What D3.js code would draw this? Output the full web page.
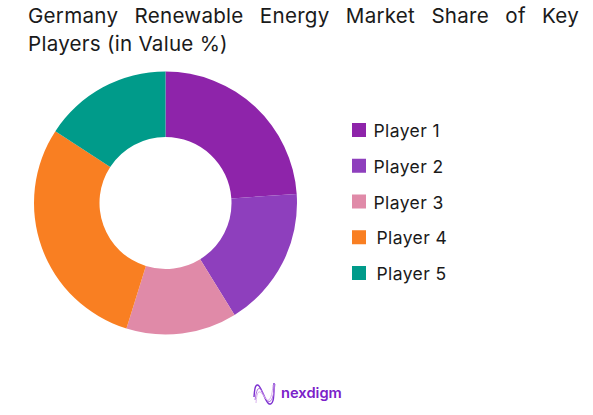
<!DOCTYPE html>
<html>
<head>
<meta charset="utf-8">
<script src="https://cdn.jsdelivr.net/npm/d3@7"></script>
<style>
html, body { margin: 0; padding: 0; background: #fff; }
svg { display: block; }
text { font-family: Inter, "Open Sans", sans-serif; fill: #1a1a1a; }
</style>
</head>
<body>
<svg id="chart" width="593" height="415"></svg>
<script>
var players = ["Player 1", "Player 2", "Player 3", "Player 4", "Player 5"];
var shares = [23.9, 17.3, 13.6, 29.4, 15.8];
var colors = ["#8e24aa", "#8e3fbd", "#e08aa8", "#f97f22", "#009b8a"];
var legendNudge = [0, 0, 0, 3, 3];
var titleLines = ["Germany Renewable Energy Market Share of Key", "Players (in Value %)"];

var svg = d3.select('#chart');

// title, first line is justified out to the right edge
var line1 = svg.append("text")
    .attr("x", 28).attr("y", 23)
    .style("font-size", "20.6px")
    .style("letter-spacing", "0.25px")
    .text(titleLines[0]);
var gaps = titleLines[0].split(" ").length - 1;
var extra = (551 - line1.node().getComputedTextLength()) / gaps;
line1.style("word-spacing", extra + "px");

svg.append("text")
    .attr("x", 28).attr("y", 51)
    .style("font-size", "20.6px")
    .style("letter-spacing", "0.25px")
    .text(titleLines[1]);

// donut
var pie = d3.pie().sort(null)(shares);
var arc = d3.arc().innerRadius(66).outerRadius(131.5);

svg.append("g")
    .attr("transform", "translate(165.5,203)")
    .selectAll("path")
    .data(pie)
    .enter().append("path")
    .attr("d", arc)
    .attr("fill", function (d, i) { return colors[i]; });

// legend
var y = d3.scalePoint().domain(players).range([130, 273]);

var item = svg.append("g")
    .selectAll("g")
    .data(players)
    .enter().append("g")
    .attr("transform", function (d) { return "translate(352," + y(d) + ")"; });

item.append("rect")
    .attr("x", 0).attr("y", -7)
    .attr("width", 14).attr("height", 14)
    .attr("fill", function (d, i) { return colors[i]; });

item.append("text")
    .attr("x", function (d, i) { return 21.5 + legendNudge[i]; })
    .attr("y", 7)
    .style("font-size", "17.5px")
    .style("letter-spacing", "0.4px")
    .text(function (d) { return d; });

// logo
var logo = svg.append("g").attr("transform", "translate(254,383)");
var wave = d3.line().curve(d3.curveBasis);
var wavePoints = [
    [[0, 14], [1, 2], [5, 1], [10, 13], [14, 22], [20, 21], [20, 0]],
    [[1, 17], [3, 5], [7, 5], [11, 15], [15, 20], [19, 16], [21, 1]],
    [[2, 20], [3, 9], [7, 8], [12, 17], [15, 18], [18, 12], [19, 2]]
];
logo.selectAll("path")
    .data(wavePoints)
    .enter().append("path")
    .attr("d", wave)
    .attr("fill", "none")
    .attr("stroke", function (d, i) { return ["#7b2fd0", "#b06ee0", "#d9b3ee"][i]; })
    .attr("stroke-width", function (d, i) { return i == 0 ? 1.4 : 1; });

svg.append("text")
    .attr("x", 281).attr("y", 398)
    .style("font-size", "14.7px")
    .style("font-weight", "600")
    .style("fill", "#7b22c9")
    .text("nexdigm");
</script>
</body>
</html>
